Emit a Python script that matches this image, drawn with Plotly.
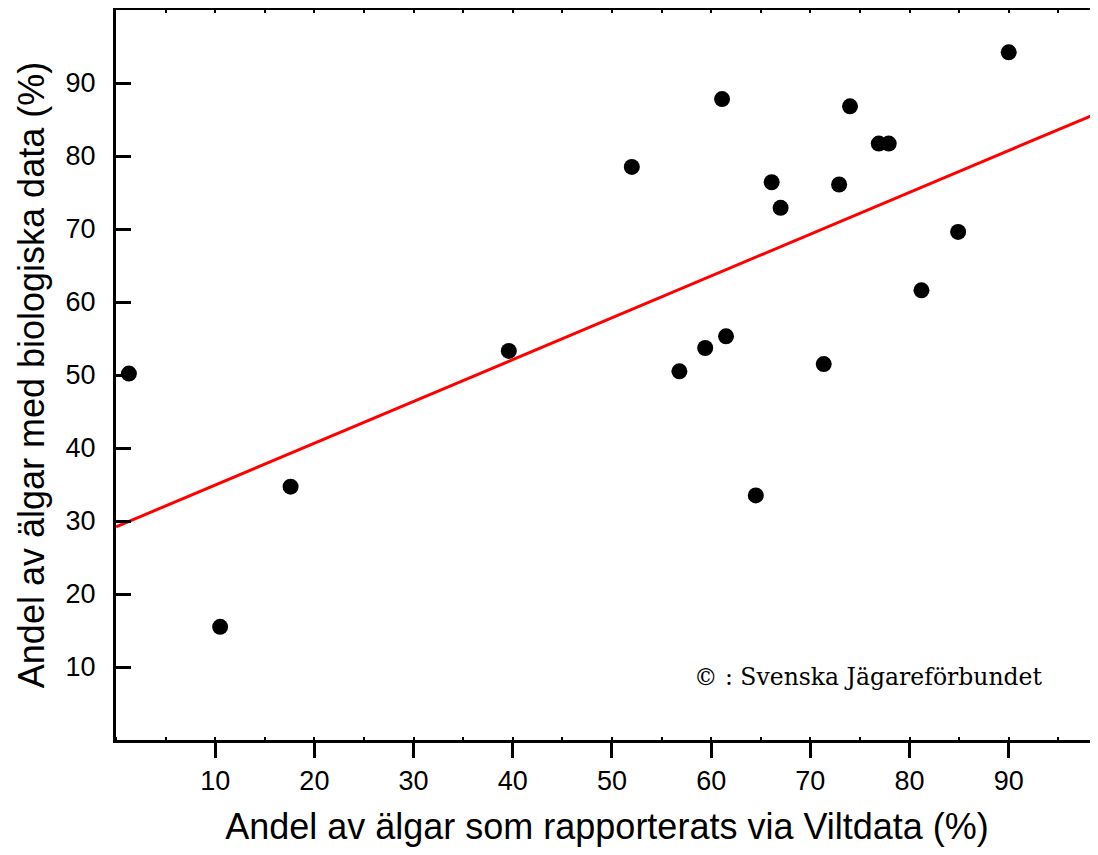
import plotly.graph_objects as go

# Andel rapporterade via Viltdata (%) och andel med biologiska data (%)
viltdata_pct = [1.3, 10.5, 17.6, 39.6, 52.0, 56.8, 59.4, 61.5, 61.1, 64.5,
                66.1, 67.0, 71.35, 72.9, 74.0, 76.9, 77.9, 81.2, 84.9, 90.0]
bio_pct = [50.2, 15.5, 34.7, 53.3, 78.5, 50.5, 53.7, 55.3, 87.8, 33.5,
           76.4, 72.9, 51.5, 76.1, 86.8, 81.7, 81.7, 61.6, 69.6, 94.2]

# regressionslinje (avläst i ändpunkterna)
fit_x = [0, 99]
fit_y = [29.2, 85.9]

tick_vals = [10, 20, 30, 40, 50, 60, 70, 80, 90]

font_sans = "Liberation Sans, Arial, Helvetica, sans-serif"

fig = go.Figure()

fig.add_trace(go.Scatter(
    x=fit_x, y=fit_y,
    mode='lines',
    line=dict(color='#ff0000', width=3),
    showlegend=False,
    hoverinfo='skip'
))

fig.add_trace(go.Scatter(
    x=viltdata_pct, y=bio_pct,
    mode='markers',
    marker=dict(color='black', size=16),
    showlegend=False
))

# osynlig trace för att rita topp- och högeraxlarna
fig.add_trace(go.Scatter(
    x=fit_x, y=fit_y, xaxis='x2', yaxis='y2',
    mode='lines', line=dict(width=0), opacity=0,
    showlegend=False, hoverinfo='skip'
))

fig.add_annotation(
    x=93.7, y=8.6, xref='x', yref='y',
    text="© : Svenska Jägareförbundet",
    showarrow=False, xanchor='right', yanchor='middle',
    font=dict(family="DejaVu Serif, Georgia, serif", size=23.5, color='black')
)

# sidan har 8 px marginal runt diagrammet, därför 1090x839
fig.update_layout(
    width=1090, height=839,
    margin=dict(l=108, r=0, t=2, b=107),
    plot_bgcolor='white',
    paper_bgcolor='white',
    font=dict(family=font_sans, color='black'),
    xaxis=dict(
        range=[0, 99], automargin=False,
        tickvals=tick_vals,
        ticks='outside', ticklen=15, tickwidth=3, tickcolor='black',
        minor=dict(ticks='inside', ticklen=3, tickwidth=2, dtick=5, tick0=5, tickcolor='black'),
        showline=True, linewidth=3, linecolor='black',
        showgrid=False, zeroline=False,
        tickfont=dict(size=27),
        title=dict(text="Andel av älgar som rapporterats via Viltdata (%)",
                   font=dict(size=36), standoff=20),
    ),
    yaxis=dict(
        range=[0, 100], automargin=False,
        tickvals=tick_vals,
        ticks='inside', ticklen=15, tickwidth=3, tickcolor='black',
        showline=True, linewidth=3, linecolor='black',
        showgrid=False, zeroline=False,
        tickfont=dict(size=27),
        ticklabelstandoff=12,
        title=dict(text="Andel av älgar med biologiska data (%)",
                   font=dict(size=36), standoff=10),
    ),
    xaxis2=dict(
        range=[0, 99], overlaying='x', side='top', automargin=False,
        tickvals=[5 * i for i in range(1, 20)],
        ticks='inside', ticklen=3, tickwidth=2, tickcolor='black',
        showticklabels=False,
        showline=True, linewidth=3, linecolor='black',
        showgrid=False, zeroline=False,
    ),
    yaxis2=dict(
        range=[0, 100], overlaying='y', side='right', automargin=False,
        tickvals=tick_vals,
        ticks='inside', ticklen=5, tickwidth=3, tickcolor='black',
        showticklabels=False, showline=False,
        showgrid=False, zeroline=False,
    ),
)

fig.write_html("out.html")
